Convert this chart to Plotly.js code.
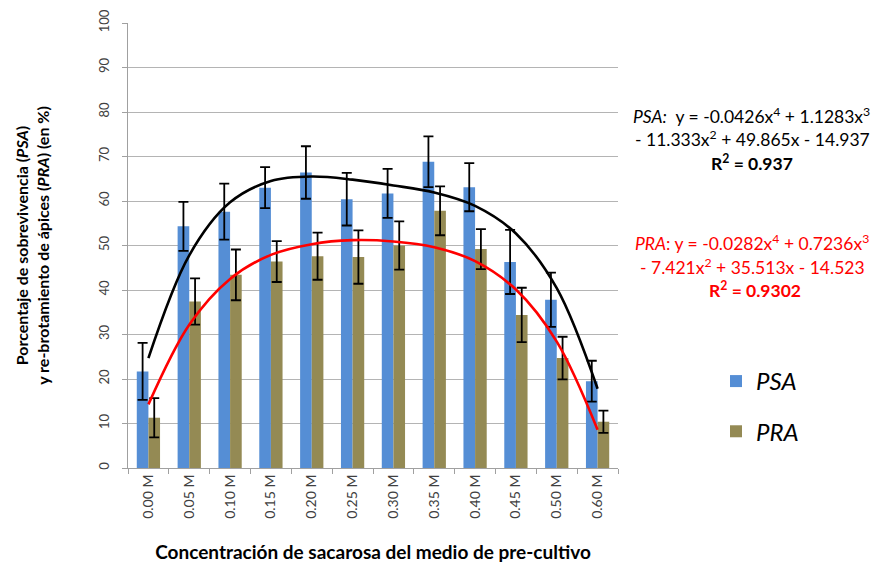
<!DOCTYPE html>
<html>
<head>
<meta charset="utf-8">
<script src="https://cdn.plot.ly/plotly-3.0.1.min.js"></script>
<style>html,body{margin:0;padding:0;background:#fff;}#chart{width:875px;height:571px;}</style>
</head>
<body>
<div id="chart"></div>
<script>
const categories = ["0.00 M","0.05 M","0.10 M","0.15 M","0.20 M","0.25 M","0.30 M","0.35 M","0.40 M","0.45 M","0.50 M","0.60 M"];
const psaValues = [21.7, 54.3, 57.6, 63.0, 66.4, 60.4, 61.7, 68.8, 63.1, 46.3, 37.8, 19.5];
const psaErrors = [6.4, 5.5, 6.3, 4.6, 5.9, 5.9, 5.5, 5.7, 5.4, 7.2, 6.1, 4.6];
const praValues = [11.3, 37.4, 43.4, 46.4, 47.6, 47.4, 50.0, 57.8, 49.2, 34.4, 24.7, 10.4];
const praErrors = [4.4, 5.2, 5.7, 4.6, 5.3, 6.0, 5.4, 5.5, 4.5, 6.1, 4.8, 2.5];
const psaTrend = [24.7, 47.8, 59.7, 64.5, 65.5, 64.8, 63.5, 61.9, 58.9, 52.7, 40.4, 17.8];
const praTrend = [14.3, 32.2, 42.5, 47.9, 50.3, 51.2, 50.9, 49.6, 46.5, 40.1, 28.4, 8.6];
const yTicks = [0,10,20,30,40,50,60,70,80,90,100];

const FONT = "Lato, 'Open Sans', sans-serif";
const errStyle = {type:'data', visible:true, color:'#000000', thickness:1.8, width:5};

const traces = [
  {type:'bar', name:'<i>PSA</i>', x:categories, y:psaValues,
   error_y:Object.assign({array:psaErrors}, errStyle),
   marker:{color:'#558ED5'}, legendgroup:'a'},
  {type:'bar', name:'<i>PRA</i>', x:categories, y:praValues,
   error_y:Object.assign({array:praErrors}, errStyle),
   marker:{color:'#948A54'}, legendgroup:'b'},
  {type:'scatter', mode:'lines', x:categories, y:psaTrend, showlegend:false,
   line:{color:'#000000', width:2.6, shape:'spline', smoothing:1}, hoverinfo:'skip'},
  {type:'scatter', mode:'lines', x:categories, y:praTrend, showlegend:false,
   line:{color:'#FF0000', width:2.6, shape:'spline', smoothing:1}, hoverinfo:'skip'}
];

function ann(text, xpx, ypx, color, size, bold){
  return {xref:'paper', yref:'paper', x:(xpx-128)/490, y:(468-ypx)/445,
    xanchor:'center', yanchor:'middle', showarrow:false,
    text: bold ? '<b>'+text+'</b>' : text,
    font:{family:FONT, size:size, color:color}};
}

const layout = {
  width:875, height:571,
  margin:{l:128, r:257, t:23, b:103},
  paper_bgcolor:'#ffffff', plot_bgcolor:'#ffffff',
  font:{family:FONT, color:'#404040'},
  barmode:'group', bargap:0.43, bargroupgap:0,
  showlegend:true,
  legend:{x:1.2, y:0.245, xanchor:'left', yanchor:'top',
    font:{family:FONT, size:24, color:'#000000'}, tracegroupgap:16,
    traceorder:'grouped', bgcolor:'rgba(0,0,0,0)'},
  xaxis:{type:'category', tickson:'boundaries', ticks:'outside', ticklen:5,
    tickcolor:'#a0a0a0', showline:true, linecolor:'#a0a0a0', linewidth:1,
    showgrid:false, tickangle:-90, tickfont:{family:FONT, size:14, color:'#404040'},
    title:{text:'<b>Concentración de sacarosa del medio de pre-cultivo</b>',
      font:{family:FONT, size:19, color:'#000000'}, standoff:27}},
  yaxis:{range:[0,100], tickvals:yTicks, ticks:'outside', ticklen:5,
    tickcolor:'#a0a0a0', showline:true, linecolor:'#a0a0a0', linewidth:1,
    showgrid:true, gridcolor:'#b4b4b4', gridwidth:1, zeroline:false,
    ticklabelstandoff:8,
    tickangle:-90, tickfont:{family:FONT, size:13, color:'#404040'},
    title:{text:'<b>Porcentaje de sobrevivencia (<i>PSA</i>)<br>y re-brotamiento de ápices (<i>PRA</i>) (en %)</b>',
      font:{family:FONT, size:16, color:'#000000'}, standoff:42}},
  annotations:[
    ann('<i>PSA:</i>  y = -0.0426x<sup>4</sup> + 1.1283x<sup>3</sup>', 751, 115, '#000000', 17.5, false),
    ann('- 11.333x<sup>2</sup> + 49.865x - 14.937', 752, 138, '#000000', 17.5, false),
    ann('R<sup>2</sup> = 0.937', 752, 162, '#000000', 17.5, true),
    ann('<i>PRA</i>: y = -0.0282x<sup>4</sup> + 0.7236x<sup>3</sup>', 752, 242, '#FF0000', 17.5, false),
    ann('- 7.421x<sup>2</sup> + 35.513x - 14.523', 752, 266, '#FF0000', 17.5, false),
    ann('R<sup>2</sup> = 0.9302', 755, 289, '#FF0000', 17.5, true)
  ]
};

Plotly.newPlot('chart', traces, layout, {displayModeBar:false, staticPlot:true});
</script>
</body>
</html>
